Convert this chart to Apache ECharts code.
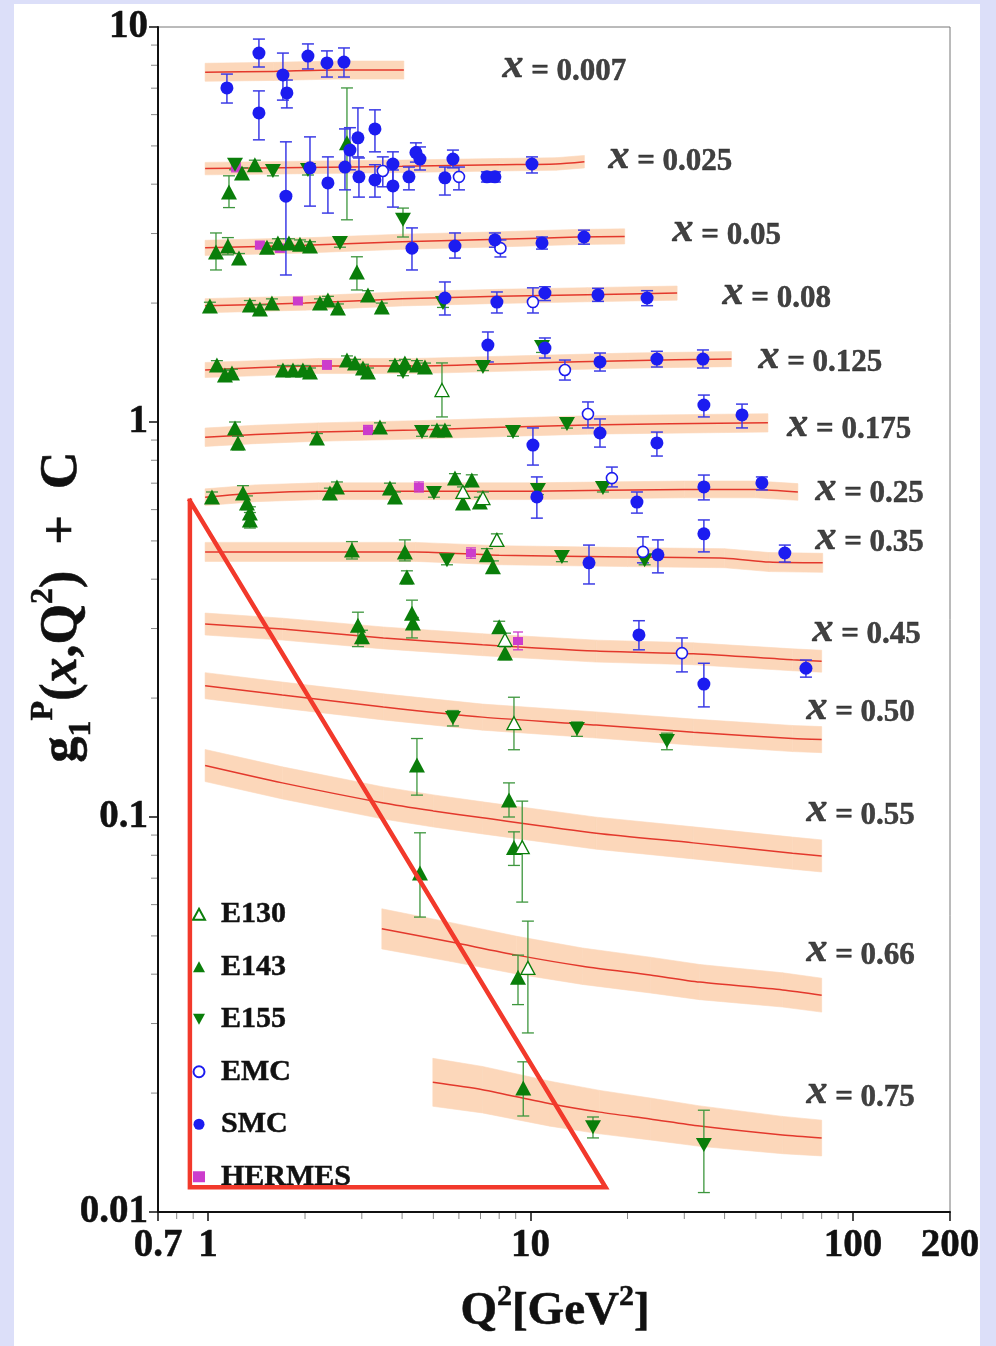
<!DOCTYPE html>
<html><head><meta charset="utf-8">
<script src="https://cdn.jsdelivr.net/npm/echarts@6/dist/echarts.min.js"></script>
<style>
html,body{margin:0;padding:0;background:#dcdff9;}
#wrap{position:relative;width:996px;height:1346px;overflow:hidden;}
#panel{position:absolute;left:14px;top:4px;width:966px;height:1342px;background:#fff;}
#chart{position:absolute;left:0;top:0;width:996px;height:1346px;}
</style></head><body>
<div id="wrap"><div id="panel"></div><div id="chart"></div></div>
<script>
// ---------- data ----------
const X_BINS = ['0.007','0.025','0.05','0.08','0.125','0.175','0.25','0.35','0.45','0.50','0.55','0.66','0.75'];
const LABEL_Q2 = [8.16, 17.39, 27.47, 39.26, 50.75, 62.4, 76.25, 76.25, 74.6, 71.5, 71.5, 71.5, 71.5];
const LABEL_G1 = [7.96, 4.69, 3.06, 2.12, 1.46, 0.983, 0.677, 0.509, 0.2975, 0.1888, 0.1041, 0.046, 0.0201];

// theory curves (centre) and band half-width factors
const BAND_Q2 = [
  [0.98, 1.6, 2.5, 4.05],
  [0.98, 2.0, 4.0, 8.0, 12.0, 14.7],
  [0.98, 2.0, 4.0, 8.0, 14.0, 19.6],
  [0.98, 2.0, 4.0, 8.0, 15.0, 28.5],
  [0.98, 2.2, 4.4, 10.0, 20.0, 42.0],
  [0.98, 1.4, 2.2, 4.4, 15.0, 54.5],
  [0.98, 1.4, 2.2, 10.0, 30.0, 50.0, 67.5],
  [0.98, 4.4, 8.0, 20.0, 40.0, 55.0, 80.6],
  [0.98, 1.7, 3.5, 7.1, 16.0, 32.0, 65.0, 80.0],
  [0.98, 1.7, 3.5, 7.1, 16.0, 32.0, 65.0, 80.0],
  [0.98, 1.7, 3.5, 5.0, 7.1, 16.0, 32.0, 65.0, 80.0],
  [3.46, 5.63, 9.07, 14.5, 23.5, 33.5, 60.5, 80.0],
  [4.98, 7.1, 11.5, 16.4, 23.5, 33.5, 60.5, 80.0]
];
const BAND_G1 = [
  [7.68, 7.72, 7.78, 7.78],
  [4.38, 4.41, 4.44, 4.48, 4.50, 4.56],
  [2.76, 2.80, 2.86, 2.90, 2.94, 2.95],
  [1.97, 2.00, 2.05, 2.08, 2.10, 2.12],
  [1.354, 1.386, 1.386, 1.41, 1.43, 1.443],
  [0.915, 0.93, 0.943, 0.955, 0.983, 0.995],
  [0.645, 0.66, 0.668, 0.668, 0.675, 0.675, 0.665],
  [0.469, 0.469, 0.46, 0.455, 0.452, 0.442, 0.44],
  [0.308, 0.299, 0.284, 0.273, 0.263, 0.259, 0.25, 0.248],
  [0.215, 0.2035, 0.190, 0.179, 0.171, 0.164, 0.158, 0.157],
  [0.135, 0.122, 0.1085, 0.1036, 0.0995, 0.091, 0.086, 0.081, 0.0797],
  [0.0521, 0.0483, 0.0447, 0.0419, 0.0398, 0.0382, 0.0365, 0.0354],
  [0.0213, 0.0204, 0.0188, 0.0179, 0.0172, 0.0165, 0.01566, 0.01539]
];
const BAND_W = [
  [1.054, 1.054, 1.054, 1.054],
  [1.037, 1.037, 1.037, 1.037, 1.037, 1.037],
  [1.045, 1.045, 1.045, 1.045, 1.045, 1.045],
  [1.042, 1.042, 1.042, 1.042, 1.042, 1.042],
  [1.045, 1.045, 1.045, 1.045, 1.045, 1.045],
  [1.055, 1.055, 1.055, 1.055, 1.055, 1.055],
  [1.05, 1.05, 1.05, 1.05, 1.05, 1.05, 1.05],
  [1.057, 1.057, 1.057, 1.057, 1.057, 1.057, 1.057],
  [1.066, 1.066, 1.066, 1.066, 1.066, 1.066, 1.066, 1.066],
  [1.079, 1.079, 1.079, 1.079, 1.079, 1.079, 1.079, 1.079],
  [1.098, 1.098, 1.098, 1.098, 1.098, 1.098, 1.098, 1.098, 1.098],
  [1.124, 1.12, 1.116, 1.112, 1.11, 1.108, 1.105, 1.104],
  [1.15, 1.145, 1.14, 1.135, 1.13, 1.125, 1.115, 1.11]
];

// experiments: [Q2, g1+C, low, high]
const SMC = [
  [1.145,7.01,6.42,7.60],[1.439,8.59,7.92,9.32],[1.439,6.06,5.18,6.89],[1.708,7.56,6.53,8.59],
  [1.757,6.81,6.24,7.34],[2.042,8.44,7.83,9.06],[2.339,8.11,7.47,8.70],[2.641,8.15,7.47,8.85],
  [1.745,3.73,2.356,5.12],[2.072,4.40,3.52,5.27],[2.355,4.03,3.38,4.69],[2.66,4.42,3.87,5.52],
  [2.756,4.88,4.35,5.56],[2.918,5.24,4.69,6.24],[2.939,4.175,3.71,4.66],[3.295,5.52,4.83,6.17],
  [3.295,4.10,3.71,4.48],[3.746,4.50,3.94,4.83],[3.746,3.96,3.50,4.345],[4.2,4.175,3.87,4.42],
  [4.415,4.81,4.55,5.09],[4.544,4.63,4.345,4.97],[5.43,4.15,3.755,4.42],[5.75,4.63,4.40,4.88],
  [7.33,4.175,4.05,4.30],[7.76,4.175,4.05,4.30],[10.11,4.50,4.27,4.69],
  [4.292,2.755,2.426,3.10],[5.834,2.79,2.60,3.01],[7.76,2.89,2.77,3.01],[10.86,2.84,2.74,2.94],[14.66,2.94,2.82,3.06],
  [5.43,2.06,1.866,2.262],[7.87,2.012,1.888,2.134],[11.09,2.121,2.03,2.20],[16.2,2.097,2.02,2.18],[23.0,2.06,1.97,2.15],
  [7.38,1.566,1.419,1.69],[11.09,1.539,1.452,1.632],[16.43,1.419,1.346,1.495],[24.67,1.443,1.378,1.51],[34.27,1.443,1.37,1.522],
  [10.18,0.874,0.778,0.966],[16.43,0.938,0.864,1.018],[24.67,0.885,0.82,0.943],[34.5,1.104,1.03,1.17],[45.3,1.042,0.966,1.11],
  [10.47,0.646,0.571,0.726],[21.39,0.627,0.588,0.665],[34.5,0.685,0.635,0.734],[52.2,0.701,0.673,0.726],
  [15.19,0.440,0.389,0.488],[24.85,0.461,0.415,0.503],[34.5,0.521,0.469,0.565],[61.5,0.466,0.442,0.488],
  [21.7,0.289,0.265,0.314],[34.5,0.217,0.190,0.245],[71.5,0.238,0.226,0.2497]
];
const EMC = [
  [3.485,4.32,3.94,4.69],[6.003,4.175,3.87,4.42],[8.07,2.755,2.617,2.89],[10.18,2.012,1.888,2.186],
  [12.79,1.354,1.277,1.435],[15.08,1.048,0.966,1.124],[17.89,0.721,0.685,0.769],[22.33,0.469,0.44,0.512],
  [29.5,0.260,0.233,0.284]
];
const HERMES = [
  [1.221,4.42,4.3,4.55],[1.449,2.805,2.74,2.87],[1.671,2.755,2.69,2.82],[1.901,2.024,1.98,2.07],
  [2.339,1.394,1.36,1.43],[3.135,0.954,0.93,0.98],[4.51,0.685,0.665,0.705],[6.54,0.466,0.452,0.48],
  [9.15,0.279,0.265,0.294]
];
const E130 = [
  [5.317,1.205,1.03,1.411],[6.176,0.665,0.645,0.685],[7.124,0.642,0.62,0.665],[7.87,0.503,0.49,0.521],
  [8.34,0.281,0.27,0.292],[8.89,0.1728,0.148,0.201],[9.43,0.0839,0.0609,0.1097],[9.82,0.0415,0.0284,0.0545]
];
const E143 = [
  [1.162,3.82,3.49,4.2],[1.275,4.27,4.15,4.4],[1.398,4.48,4.35,4.6],[2.698,5.09,3.25,7.01],
  [1.059,2.695,2.426,3.01],[1.153,2.79,2.65,2.93],[1.248,2.60,2.53,2.67],[1.524,2.77,2.7,2.84],
  [1.648,2.84,2.77,2.91],[1.783,2.84,2.77,2.91],[1.929,2.82,2.75,2.89],[2.072,2.79,2.72,2.86],[2.897,2.397,2.159,2.62],
  [1.014,1.967,1.92,2.01],[1.349,1.978,1.93,2.03],[1.449,1.933,1.89,1.98],[1.579,2.001,1.95,2.05],
  [2.225,2.001,1.95,2.05],[2.355,2.036,1.99,2.08],[2.53,1.944,1.9,1.99],[3.135,2.097,2.05,2.15],[3.46,1.955,1.91,2.0],
  [1.066,1.394,1.36,1.43],[1.129,1.315,1.28,1.35],[1.187,1.331,1.3,1.36],[1.708,1.354,1.32,1.39],
  [1.835,1.354,1.32,1.39],[1.970,1.354,1.32,1.39],[2.072,1.339,1.31,1.37],[2.698,1.435,1.4,1.47],
  [2.857,1.411,1.38,1.44],[3.025,1.37,1.34,1.4],[3.135,1.339,1.31,1.37],[3.80,1.394,1.36,1.43],
  [4.08,1.411,1.38,1.44],[4.447,1.394,1.36,1.43],[4.709,1.378,1.35,1.41],
  [1.213,0.966,0.93,1.0],[1.239,0.885,0.85,0.92],[2.178,0.911,0.89,0.935],[3.415,0.971,0.95,0.995],
  [5.13,0.954,0.93,0.98],[5.43,0.954,0.93,0.98],
  [1.029,0.646,0.63,0.665],[1.284,0.661,0.64,0.69],[1.321,0.624,0.6,0.65],[1.349,0.588,0.57,0.61],
  [1.349,0.565,0.539,0.59],[2.389,0.661,0.64,0.68],[2.512,0.685,0.665,0.705],[3.667,0.681,0.66,0.7],
  [3.80,0.646,0.63,0.665],[5.834,0.721,0.7,0.74],[6.58,0.713,0.69,0.735],[6.176,0.624,0.605,0.645],[6.97,0.627,0.61,0.645],
  [2.796,0.474,0.45,0.498],[4.08,0.469,0.445,0.503],[7.33,0.461,0.445,0.478],[7.65,0.430,0.415,0.445],
  [4.14,0.405,0.389,0.42],[2.918,0.306,0.27,0.330],[3.003,0.286,0.275,0.297],[4.292,0.328,0.284,0.354],
  [4.32,0.310,0.3,0.32],[8.0,0.303,0.293,0.313],[8.34,0.260,0.25,0.27],
  [4.447,0.1354,0.1136,0.158],[8.58,0.1104,0.1,0.122],[8.89,0.0837,0.0754,0.0917],[4.544,0.0721,0.0558,0.0912],
  [9.15,0.0393,0.0335,0.0447],[9.50,0.0206,0.0175,0.024]
];
const E155 = [
  [1.213,4.48,4.35,4.6],[1.59,4.32,4.2,4.45],[2.042,4.345,4.22,4.47],[4.025,3.25,2.94,3.48],
  [2.566,2.84,2.77,2.91],[5.355,2.001,1.95,2.05],[4.025,1.339,1.31,1.37],[7.124,1.378,1.35,1.41],
  [10.86,1.548,1.5,1.6],[4.61,0.943,0.92,0.965],[8.83,0.943,0.92,0.965],[12.98,0.988,0.965,1.01],
  [5.021,0.661,0.645,0.68],[10.55,0.673,0.655,0.69],[16.78,0.681,0.665,0.7],
  [5.51,0.447,0.435,0.46],[12.52,0.455,0.443,0.467],[22.6,0.447,0.435,0.46],
  [5.75,0.178,0.17,0.186],[13.94,0.167,0.16,0.174],[26.5,0.1557,0.148,0.163],
  [15.63,0.0164,0.0154,0.0174],[34.5,0.01477,0.0112,0.0181]
];
// annotation triangle (data coordinates)
const ANNOT = [[0.879,0.632],[0.879,0.01155],[17.1,0.01155],[0.879,0.632]];
// axis ticks
const X_MINOR = [0.8,0.9,2,3,4,5,6,7,8,9,20,30,40,50,60,70,80,90];
const Y_MINOR = [0.02,0.03,0.04,0.05,0.06,0.07,0.08,0.09,0.2,0.3,0.4,0.5,0.6,0.7,0.8,0.9,2,3,4,5,6,7,8,9];

// ---------- styles ----------
const SERIF = '"Liberation Serif","Times New Roman",serif';
const BLUE = '#1c1cf0', BLUE_BAR = '#3c3ce6';
const GREEN = '#0a7e0a', GREEN_BAR = '#3d963d';
const MAG = '#cc3ccc';
const DOWN = 'path://M0,0L20,0L10,18Z';
const INK = '#111';

const chart = echarts.init(document.getElementById('chart'), null, {renderer:'canvas'});

function errRender(color, cap, width){
  return function(params, api){
    const x = api.value(0), lo = api.value(2), hi = api.value(3);
    const a = api.coord([x, lo]), b = api.coord([x, hi]);
    const h = cap/2, st = {stroke:color, lineWidth:width};
    return {type:'group', children:[
      {type:'line', shape:{x1:a[0],y1:a[1],x2:b[0],y2:b[1]}, style:st},
      {type:'line', shape:{x1:a[0]-h,y1:a[1],x2:a[0]+h,y2:a[1]}, style:st},
      {type:'line', shape:{x1:b[0]-h,y1:b[1],x2:b[0]+h,y2:b[1]}, style:st}
    ]};
  };
}

const bandSegs = [];
BAND_Q2.forEach((qs, b) => {
  for (let i = 0; i < qs.length - 1; i++) {
    const c0 = BAND_G1[b][i], c1 = BAND_G1[b][i+1], w0 = BAND_W[b][i], w1 = BAND_W[b][i+1];
    bandSegs.push([qs[i], qs[i+1], c0/w0, c0*w0, c1/w1, c1*w1]);
  }
});

const series = [];
series.push({
  type:'custom', name:'band', silent:true, z:1, data:bandSegs,
  encode:{x:[0,1], y:[2,3,4,5]},
  renderItem(params, api){
    const qa=api.value(0), qb=api.value(1);
    const p1=api.coord([qa, api.value(3)]), p2=api.coord([qb, api.value(5)]);
    const p3=api.coord([qb, api.value(4)]), p4=api.coord([qa, api.value(2)]);
    return {type:'polygon', shape:{points:[p1,p2,p3,p4]}, style:{fill:'#fcd7ba', stroke:'#fcd7ba', lineWidth:0.6}};
  }
});
BAND_Q2.forEach((qs, b) => {
  series.push({
    type:'line', name:'theory '+X_BINS[b], silent:true, z:2, symbol:'none', smooth:0.25,
    data: qs.map((q,i)=>[q, BAND_G1[b][i]]),
    lineStyle:{color:'#e3382c', width:1.5}
  });
});

function errSeries(name, data, color, cap, width){
  return {type:'custom', name:name+' err', silent:true, z:3, data, encode:{x:0, y:[1,2,3]}, renderItem:errRender(color, cap, width)};
}
function markSeries(name, data, symbol, size, itemStyle){
  return {type:'scatter', name, silent:true, z:4, symbol, symbolSize:size, data:data.map(d=>[d[0],d[1]]), itemStyle};
}
series.push(errSeries('HERMES', HERMES, MAG, 10, 1.3));
series.push(errSeries('E155', E155, GREEN_BAR, 12, 1.3));
series.push(errSeries('E143', E143, GREEN_BAR, 12, 1.3));
series.push(errSeries('E130', E130, GREEN_BAR, 12, 1.3));
series.push(errSeries('EMC', EMC, BLUE_BAR, 12, 1.5));
series.push(errSeries('SMC', SMC, BLUE_BAR, 12, 1.5));
series.push(markSeries('HERMES', HERMES, 'rect', [10,8], {color:MAG, opacity:1}));
series.push(markSeries('E155', E155, DOWN, [16,14], {color:GREEN, opacity:1}));
series.push(markSeries('E143', E143, 'triangle', [16,15], {color:GREEN, opacity:1}));
series.push(markSeries('E130', E130, 'triangle', [14,13], {color:'#ffffff', borderColor:GREEN, borderWidth:1.3, opacity:1}));
series.push(markSeries('EMC', EMC, 'circle', 11, {color:'#ffffff', borderColor:BLUE, borderWidth:1.6, opacity:1}));
series.push(markSeries('SMC', SMC, 'circle', 13, {color:BLUE, opacity:1}));

const bold = (size, extra) => Object.assign({fontFamily:SERIF, fontWeight:'bold', fontSize:size, color:INK, textBorderColor:INK, textBorderWidth:0.5}, extra||{});

series.push({
  type:'scatter', name:'binLabels', silent:true, z:6, symbolSize:1, itemStyle:{color:'rgba(0,0,0,0)'},
  data: X_BINS.map((t,i)=>({name:t, value:[LABEL_Q2[i], LABEL_G1[i]]})),
  label:{show:true, position:'right', distance:0, formatter:p=>'{i|x}{n| = '+p.name+'}',
    rich:{
      i:bold(42, {fontStyle:'italic', lineHeight:42, verticalAlign:'bottom'}),
      n:bold(31, {lineHeight:31, verticalAlign:'bottom'})
    }}
});

series.push({
  type:'custom', name:'xminor', silent:true, z:5, clip:false, data:X_MINOR.map(v=>[v,0.01]),
  encode:{x:0,y:1},
  renderItem(params, api){ const p=api.coord([api.value(0), 0.01]);
    return {type:'line', shape:{x1:p[0],y1:p[1]+1,x2:p[0],y2:p[1]+7}, style:{stroke:'#888', lineWidth:1}}; }
});
series.push({
  type:'custom', name:'yminor', silent:true, z:5, clip:false, data:Y_MINOR.map(v=>[0.7,v]),
  encode:{x:0,y:1},
  renderItem(params, api){ const p=api.coord([0.7, api.value(1)]);
    return {type:'line', shape:{x1:p[0]-1,y1:p[1],x2:p[0]-7,y2:p[1]}, style:{stroke:'#888', lineWidth:1}}; }
});
series.push({
  type:'line', name:'annot', silent:true, z:8, symbol:'none', data:ANNOT,
  lineStyle:{color:'#f2392b', width:4.5, join:'miter', cap:'square'}
});

const fmt = v => String(+(+v).toPrecision(6));

chart.setOption({
  animation:false,
  backgroundColor:'transparent',
  grid:{left:158, top:27, width:792, height:1185, show:true, borderColor:'#777', borderWidth:1, backgroundColor:'transparent'},
  xAxis:{type:'log', logBase:10, min:0.7, max:200,
    axisLine:{show:true, onZero:false, lineStyle:{color:INK, width:2}},
    axisTick:{show:true, inside:false, length:9, lineStyle:{color:INK, width:1.5}},
    axisLabel:Object.assign(bold(39), {show:true, margin:14, formatter:fmt, showMinLabel:true, showMaxLabel:true}),
    splitLine:{show:false}, minorTick:{show:false}},
  yAxis:{type:'log', logBase:10, min:0.01, max:10,
    axisLine:{show:true, onZero:false, lineStyle:{color:INK, width:2}},
    axisTick:{show:true, inside:false, length:9, lineStyle:{color:INK, width:1.5}},
    axisLabel:Object.assign(bold(39), {show:true, margin:10, formatter:fmt, showMinLabel:true, showMaxLabel:true}),
    splitLine:{show:false}},
  legend:{show:true, orient:'vertical', left:187, top:894, itemWidth:12, itemHeight:11, itemGap:22,
    selectedMode:false,
    textStyle:bold(30, {lineHeight:30, padding:[0,0,0,11]}),
    data:[{name:'E130', icon:'triangle'},{name:'E143', icon:'triangle'},{name:'E155', icon:DOWN},
          {name:'EMC', icon:'circle'},{name:'SMC', icon:'circle'},{name:'HERMES', icon:'rect'}]},
  graphic:[
    {type:'text', x:63, y:607, rotation:Math.PI/2, z:10,
      style:{text:'{m|g}{sb|1}{sp|P}{m|(}{it|x}{m|,Q}{sp|2}{m|)  +  C}',
        align:'center', verticalAlign:'middle',
        rich:{
          m:{fontFamily:SERIF, fontWeight:'bold', fontSize:52, lineHeight:70, verticalAlign:'middle', fill:INK, stroke:INK, lineWidth:0.6},
          it:{fontFamily:SERIF, fontWeight:'bold', fontStyle:'italic', fontSize:52, lineHeight:70, verticalAlign:'middle', fill:INK, stroke:INK, lineWidth:0.6},
          sb:{fontFamily:SERIF, fontWeight:'bold', fontSize:32, lineHeight:32, verticalAlign:'bottom', fill:INK, stroke:INK, lineWidth:0.5},
          sp:{fontFamily:SERIF, fontWeight:'bold', fontSize:32, lineHeight:32, verticalAlign:'top', fill:INK, stroke:INK, lineWidth:0.5}
        }}},
    {type:'text', x:555, y:1312, z:10,
      style:{text:'{m|Q}{sp|2}{m|[GeV}{sp|2}{m|]}', align:'center', verticalAlign:'middle',
        rich:{
          m:{fontFamily:SERIF, fontWeight:'bold', fontSize:47, lineHeight:60, verticalAlign:'middle', fill:INK, stroke:INK, lineWidth:0.6},
          sp:{fontFamily:SERIF, fontWeight:'bold', fontSize:30, lineHeight:30, verticalAlign:'top', fill:INK, stroke:INK, lineWidth:0.5}
        }}}
  ],
  series
});
</script>
</body></html>
